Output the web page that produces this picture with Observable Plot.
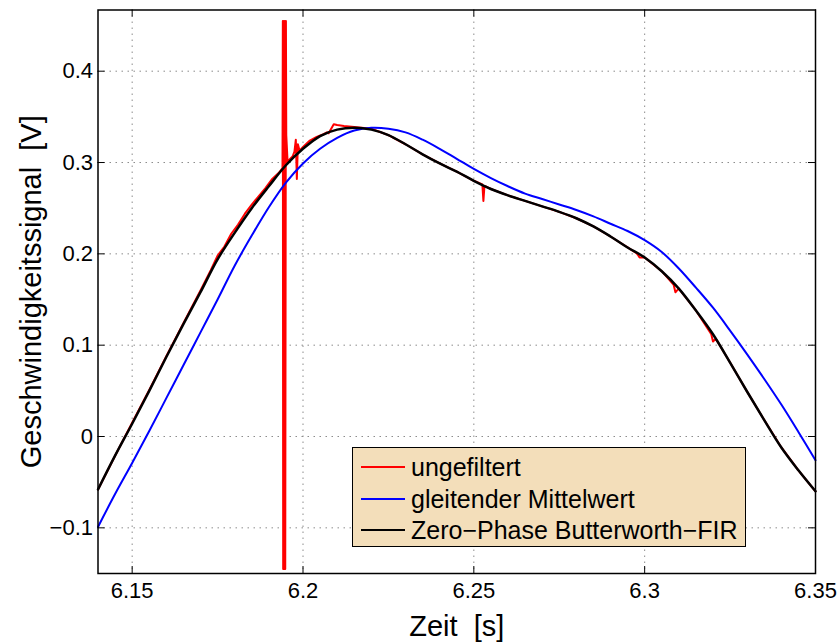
<!DOCTYPE html>
<html>
<head>
<meta charset="utf-8">
<script src="https://cdn.jsdelivr.net/npm/d3@7"></script>
<script src="https://cdn.jsdelivr.net/npm/@observablehq/plot@0.6"></script>
<style>
  html, body { margin: 0; padding: 0; background: #fff; }
  #wrap { position: relative; width: 838px; height: 642px; font-family: "Liberation Sans", Arial, Helvetica, sans-serif; }
  #legend { position: absolute; left: 352px; top: 447px; width: 392px; height: 98px;
            background: #f3deba; border: 1.5px solid #000; }
  .row { position: absolute; left: 0; height: 30px; display: flex; align-items: center; }
  .row svg { margin-left: 8px; }
  .row span { margin-left: 6px; font-size: 25px; color: #000; white-space: pre; }
</style>
</head>
<body>
<div id="wrap"></div>
<script>
// ---- data ----
const xTicks = [6.15, 6.2, 6.25, 6.3, 6.35];
const xTickLabels = ["6.15", "6.2", "6.25", "6.3", "6.35"];
const yTicks = [-0.1, 0, 0.1, 0.2, 0.3, 0.4];
const yTickLabels = ["\u22120.1", "0", "0.1", "0.2", "0.3", "0.4"];
const xLabel = "Zeit  [s]";
const yLabel = "Geschwindigkeitssignal  [V]";
const seriesNames = ["ungefiltert", "gleitender Mittelwert", "Zero\u2212Phase Butterworth\u2212FIR"];
const seriesColors = ["#ff0000", "#0000ff", "#000000"];

// Zero-Phase Butterworth-FIR (black)
const blackT = [6.140, 6.145, 6.150, 6.155, 6.160, 6.165, 6.170, 6.175, 6.180, 6.185, 6.190, 6.195, 6.200, 6.205, 6.210, 6.215, 6.220, 6.225, 6.230, 6.235, 6.240, 6.245, 6.250, 6.255, 6.260, 6.265, 6.270, 6.275, 6.280, 6.285, 6.290, 6.295, 6.300, 6.305, 6.310, 6.315, 6.320, 6.325, 6.330, 6.335, 6.340, 6.345, 6.350];
const blackV = [-0.058, -0.021, 0.014, 0.050, 0.087, 0.123, 0.158, 0.194, 0.223, 0.250, 0.274, 0.297, 0.315, 0.329, 0.336, 0.338, 0.336, 0.330, 0.320, 0.309, 0.299, 0.290, 0.280, 0.271, 0.264, 0.258, 0.252, 0.246, 0.239, 0.230, 0.219, 0.207, 0.196, 0.181, 0.162, 0.138, 0.112, 0.081, 0.049, 0.018, -0.012, -0.037, -0.060];

// gleitender Mittelwert (blue)
const blueT = [6.140, 6.145, 6.150, 6.155, 6.160, 6.165, 6.170, 6.175, 6.180, 6.185, 6.190, 6.195, 6.200, 6.205, 6.210, 6.215, 6.220, 6.225, 6.230, 6.235, 6.240, 6.245, 6.250, 6.255, 6.260, 6.265, 6.270, 6.275, 6.280, 6.285, 6.290, 6.295, 6.300, 6.305, 6.310, 6.315, 6.320, 6.325, 6.330, 6.335, 6.340, 6.345, 6.350];
const blueV = [-0.099, -0.063, -0.029, 0.006, 0.042, 0.078, 0.114, 0.150, 0.187, 0.220, 0.251, 0.278, 0.299, 0.315, 0.327, 0.335, 0.338, 0.337, 0.333, 0.325, 0.315, 0.304, 0.293, 0.283, 0.274, 0.266, 0.260, 0.254, 0.248, 0.241, 0.233, 0.225, 0.215, 0.202, 0.184, 0.163, 0.141, 0.116, 0.090, 0.063, 0.035, 0.005, -0.026];

// ungefiltert (red)
const redT = [6.140, 6.145, 6.150, 6.155, 6.160, 6.165, 6.170, 6.173, 6.175, 6.177, 6.179, 6.181, 6.183, 6.185, 6.187, 6.189, 6.191, 6.193, 6.1940, 6.1941, 6.1942, 6.1944, 6.1945, 6.1947, 6.1948, 6.1950, 6.1951, 6.1955, 6.196, 6.197, 6.1975, 6.1979, 6.1982, 6.1985, 6.199, 6.200, 6.202, 6.204, 6.206, 6.207, 6.2075, 6.209, 6.210, 6.212, 6.215, 6.220, 6.225, 6.230, 6.235, 6.240, 6.245, 6.250, 6.2525, 6.2528, 6.2531, 6.2535, 6.255, 6.260, 6.265, 6.270, 6.275, 6.280, 6.285, 6.290, 6.295, 6.2975, 6.298, 6.2985, 6.300, 6.305, 6.3085, 6.309, 6.3095, 6.310, 6.315, 6.3195, 6.320, 6.3205, 6.321, 6.325, 6.330, 6.335, 6.340, 6.345, 6.350];
const redV = [-0.058, -0.021, 0.015, 0.051, 0.088, 0.124, 0.160, 0.182, 0.198, 0.208, 0.222, 0.232, 0.244, 0.254, 0.263, 0.272, 0.282, 0.289, 0.294, 0.455, -0.145, 0.455, -0.145, 0.455, -0.145, 0.455, 0.330, 0.300, 0.303, 0.307, 0.312, 0.325, 0.282, 0.320, 0.313, 0.317, 0.324, 0.328, 0.331, 0.333, 0.332, 0.342, 0.341, 0.340, 0.339, 0.337, 0.330, 0.320, 0.309, 0.299, 0.290, 0.280, 0.276, 0.258, 0.274, 0.274, 0.271, 0.264, 0.258, 0.252, 0.246, 0.239, 0.230, 0.219, 0.207, 0.201, 0.199, 0.196, 0.196, 0.181, 0.166, 0.158, 0.160, 0.162, 0.138, 0.112, 0.104, 0.106, 0.106, 0.081, 0.049, 0.018, -0.012, -0.037, -0.060];

// ---- build tables ----
const toRows = (T, V) => T.map((t, i) => ({t, v: V[i]}));
const red = toRows(redT, redV);
const blue = toRows(blueT, blueV);
const black = toRows(blackT, blackV);
const xFmt = new Map(xTicks.map((d, i) => [d, xTickLabels[i]]));
const yFmt = new Map(yTicks.map((d, i) => [d, yTickLabels[i]]));
const keepSpaces = s => s.replace(/  /g, " \u00a0");

const W = 838, H = 642, ML = 97.5, MR = 23, MT = 9.5, MB = 69;
const innerW = W - ML - MR, innerH = H - MT - MB;
const tickLen = 7;
const gridStyle = {stroke: "#8c8c8c", strokeOpacity: 1, strokeWidth: 1, strokeDasharray: "1.5,4.5"};

const chart = Plot.plot({
  width: W, height: H,
  marginLeft: ML, marginRight: MR, marginTop: MT, marginBottom: MB,
  x: {domain: [6.14, 6.35]},
  y: {domain: [-0.15, 0.467]},
  style: {fontFamily: "'Liberation Sans', Arial, Helvetica, sans-serif", background: "#fff", color: "#000"},
  marks: [
    Plot.gridX(xTicks, gridStyle),
    Plot.gridY(yTicks, gridStyle),
    Plot.line(red, {x: "t", y: "v", stroke: seriesColors[0], strokeWidth: 2}),
    Plot.line(blue, {x: "t", y: "v", stroke: seriesColors[1], strokeWidth: 2, curve: "catmull-rom"}),
    Plot.line(black, {x: "t", y: "v", stroke: seriesColors[2], strokeWidth: 2.5, curve: "catmull-rom"}),
    Plot.frame({stroke: "#000", strokeWidth: 1.5}),
    Plot.ruleX(xTicks, {stroke: "#000", insetTop: innerH - tickLen}),
    Plot.ruleX(xTicks, {stroke: "#000", insetBottom: innerH - tickLen}),
    Plot.ruleY(yTicks, {stroke: "#000", insetRight: innerW - tickLen}),
    Plot.ruleY(yTicks, {stroke: "#000", insetLeft: innerW - tickLen}),
    Plot.axisX(xTicks, {tickSize: 0, tickPadding: 9, fontSize: 22, tickFormat: d => xFmt.get(d), label: null}),
    Plot.axisY(yTicks, {tickSize: 0, tickPadding: 5, fontSize: 22, tickFormat: d => yFmt.get(d), label: null}),
    Plot.text([xLabel], {text: d => keepSpaces(d), frameAnchor: "bottom", dy: 62, fontSize: 29, fill: "#000", textAnchor: "middle"}),
    Plot.text([yLabel], {text: d => keepSpaces(d), frameAnchor: "left", dx: -66, rotate: -90, fontSize: 29, fill: "#000", textAnchor: "middle"})
  ]
});

const wrap = document.getElementById("wrap");
wrap.appendChild(chart);

// legend (inside the axes, lower middle)
const legend = document.createElement("div");
legend.id = "legend";
const rowTops = [4, 36, 67];
seriesNames.forEach((name, i) => {
  const row = document.createElement("div");
  row.className = "row";
  row.style.top = rowTops[i] + "px";
  row.innerHTML = `<svg width="44" height="6"><line x1="0" y1="3" x2="44" y2="3" stroke="${seriesColors[i]}" stroke-width="2"/></svg><span></span>`;
  row.querySelector("span").textContent = name;
  legend.appendChild(row);
});
wrap.appendChild(legend);
</script>
</body>
</html>
